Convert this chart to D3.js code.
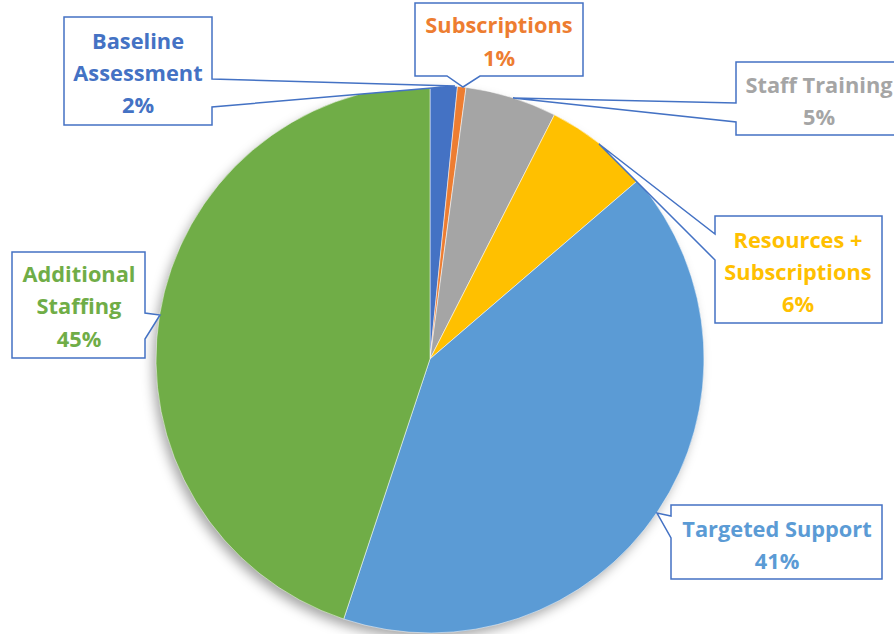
<!DOCTYPE html>
<html><head><meta charset="utf-8">
<script src="https://cdn.jsdelivr.net/npm/d3@7"></script>
<style>html,body{margin:0;padding:0;background:#fff;overflow:hidden}</style>
</head><body>
<svg id="chart" width="894" height="634"></svg>
<script>
const categories = ["Baseline Assessment","Subscriptions","Staff Training","Resources + Subscriptions","Targeted Support","Additional Staffing"];
const values = [1.6, 0.5, 5.4, 6.2, 41.4, 44.9];
const percentLabels = ["2%","1%","5%","6%","41%","45%"];
const labelLines = [["Baseline","Assessment"],["Subscriptions"],["Staff Training"],["Resources +","Subscriptions"],["Targeted Support"],["Additional","Staffing"]];
const colors = ["#4472C4","#ED7D31","#A5A5A5","#FFC000","#5B9BD5","#70AD47"];

const svg = d3.select("#chart");
const cx = 430, cy = 359, r = 274;

const defs = svg.append("defs");
const f = defs.append("filter").attr("id","sh").attr("x","-20%").attr("y","-20%").attr("width","140%").attr("height","140%");
f.append("feDropShadow").attr("dx",-4).attr("dy",6).attr("stdDeviation",6).attr("flood-color","#000").attr("flood-opacity",0.35);

const pie = d3.pie().sort(null).value(d => d).startAngle(0).endAngle(2*Math.PI);
const arc = d3.arc().innerRadius(0).outerRadius(r);
const g = svg.append("g").attr("transform",`translate(${cx},${cy})`);
const arcs = pie(values);
g.append("circle").attr("r", r-1).attr("fill","#fff").attr("filter","url(#sh)");
g.selectAll("path.slice").data(arcs).join("path").attr("class","slice")
  .attr("d", arc).attr("fill",(d,i)=>colors[i]).attr("stroke","#fff").attr("stroke-width",0.5);

// callout shapes (layout only)
const callouts = [
  {path:"M64,17 H212 V79 L455,86 L212,107 V125 H64 Z", x:138, ys:[40,72,104]},
  {path:"M415,3 H583 V76 H480 L463,87 L447,76 H415 Z", x:499, ys:[24,57]},
  {path:"M736,62 H900 V135 H736 V122 L513,98 L736,103 Z", x:819, ys:[84,116]},
  {path:"M715,216 H882 V323 H715 V260 L599,144 L715,234 Z", x:798, ys:[239,271,303]},
  {path:"M671,505 H882 V579 H671 V538 L657,513 L671,516 Z", x:777, ys:[528,560]},
  {path:"M12,252 H145 V313 L160,315 L145,339 V358 H12 Z", x:79, ys:[273,305,338]}
];
const lg = svg.append("g");
callouts.forEach((c,i) => {
  lg.append("path").attr("d",c.path).attr("fill","#fff").attr("stroke","#4472C4").attr("stroke-width",1.5);
  const lines = labelLines[i].concat([percentLabels[i]]);
  lines.forEach((t,j) => {
    lg.append("text").attr("x",c.x).attr("y",c.ys[j]).attr("text-anchor","middle")
      .attr("dominant-baseline","central")
      .attr("font-family","'Open Sans', sans-serif").attr("font-weight","bold").attr("font-size",21.8)
      .attr("fill",colors[i]).text(t);
  });
});
</script>
</body></html>
